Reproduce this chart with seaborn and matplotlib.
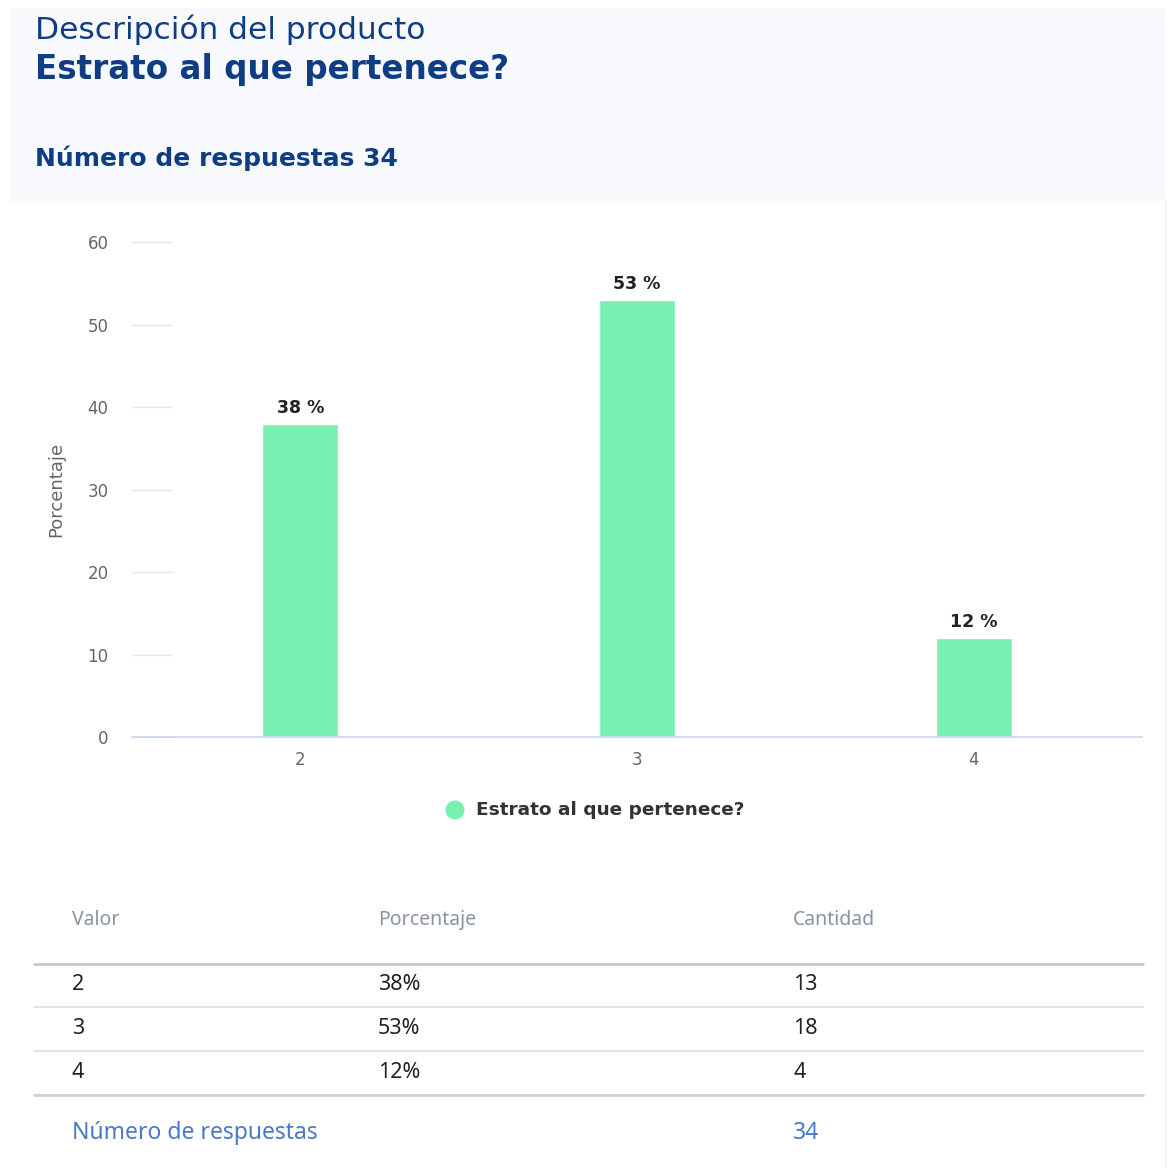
import matplotlib
matplotlib.use('Agg')
import matplotlib.pyplot as plt
import seaborn as sns
import pandas as pd
from matplotlib.lines import Line2D
from matplotlib.patches import Rectangle

valores = ['2', '3', '4']
porcentajes = [38, 53, 12]
cantidades = [13, 18, 4]
total = 34
pregunta = 'Estrato al que pertenece?'

df = pd.DataFrame({'Valor': valores, 'Porcentaje': porcentajes})

sns.set_style('white')
plt.rcParams['font.family'] = ['DejaVu Sans']

W = H = 1168
fig = plt.figure(figsize=(11.68, 11.68), dpi=100)

def fx(px):
    return px / W

def fy(py):
    return 1 - py / H

# header panel
fig.patches.append(Rectangle((fx(10), fy(201)), fx(1155), 193 / H, transform=fig.transFigure,
                             facecolor='#f7f9fd', edgecolor='none', zorder=0))
navy = '#0f3d84'
fig.text(fx(35), fy(30), 'Descripción del producto', fontsize=22.5, color=navy, va='center')
fig.text(fx(35), fy(70), pregunta, fontsize=23.5, fontweight='bold', color=navy, va='center')
fig.text(fx(35), fy(158), f'Número de respuestas {total}', fontsize=18, fontweight='bold', color=navy, va='center')

# chart
ax = fig.add_axes([fx(132), fy(737), 1010 / W, 495 / H])
sns.barplot(data=df, x='Valor', y='Porcentaje', color='#78f0b2', saturation=1, width=0.226, ax=ax)
ax.set_xlim(-0.5, 2.5)
ax.set_ylim(0, 60)
ax.set_yticks(range(0, 70, 10))
for s in ['top', 'right', 'left']:
    ax.spines[s].set_visible(False)
ax.spines['bottom'].set_color('#ccd6eb')
ax.spines['bottom'].set_linewidth(1.2)
ax.tick_params(axis='y', left=True, direction='in', length=29, width=1, color='#e6e6e6', pad=17,
               labelsize=12, labelcolor='#666666')
ax.tick_params(axis='x', length=0, pad=10, labelsize=12, labelcolor='#666666')
ax.set_xlabel('')
ax.set_ylabel('Porcentaje', fontsize=13, color='#666666', labelpad=16)
for c in ax.containers:
    ax.bar_label(c, labels=[f'{v} %' for v in porcentajes], padding=5,
                 fontsize=12.5, fontweight='bold', color='#222222')

# legend
fig.patches.append(plt.Circle((fx(455), fy(810)), 9.5 / W, transform=fig.transFigure,
                              facecolor='#78f0b2', edgecolor='none'))
fig.text(fx(476), fy(810), pregunta, fontsize=13.3, fontweight='bold', color='#333333', va='center')

# table
tfont = ['Noto Sans', 'DejaVu Sans']
cols = [72, 378, 793]
head = ['Valor', 'Porcentaje', 'Cantidad']
for x, t in zip(cols, head):
    fig.text(fx(x), fy(920), t, fontsize=14, color='#8a93a3', va='center', family=tfont)

def hline(y, color, lw):
    fig.add_artist(Line2D([fx(34), fx(1143)], [fy(y), fy(y)], transform=fig.transFigure,
                          color=color, linewidth=lw))

hline(964, '#c8c8c8', 2)
row_y = [985, 1029, 1073]
for i, (v, p, c) in enumerate(zip(valores, porcentajes, cantidades)):
    y = row_y[i]
    fig.text(fx(cols[0]), fy(y), v, fontsize=15.5, color='#222222', va='center', family=tfont)
    fig.text(fx(cols[1]), fy(y), f'{p}%', fontsize=15.5, color='#222222', va='center', family=tfont)
    fig.text(fx(cols[2]), fy(y), str(c), fontsize=15.5, color='#222222', va='center', family=tfont)
    if i < 2:
        hline(y + 22, '#dddddd', 1.2)
hline(1095, '#d0d0d0', 2)
fig.text(fx(72), fy(1133), 'Número de respuestas', fontsize=16.5, color='#4a7ac7', va='center', family=tfont)
fig.text(fx(793), fy(1133), str(total), fontsize=16.5, color='#4a7ac7', va='center', family=tfont)

fig.add_artist(Line2D([fx(1165), fx(1165)], [fy(200), fy(1168)], transform=fig.transFigure,
                      color='#eeeeee', linewidth=1))

fig.savefig('out.png', dpi=100, facecolor='white')
